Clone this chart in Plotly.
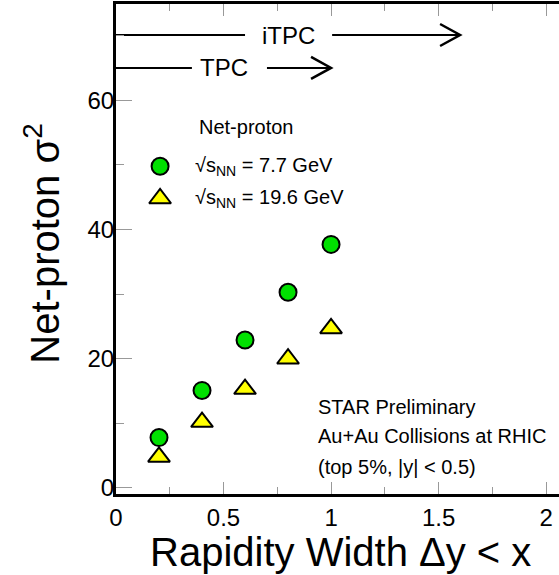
import plotly.graph_objects as go

# ---- data ----
dy_width = [0.2, 0.4, 0.6, 0.8, 1.0]
sigma2_7p7 = [7.8, 15.1, 22.9, 30.3, 37.7]
sigma2_19p6 = [4.8, 10.2, 15.3, 20.0, 24.7]

x_ticks = [0, 0.5, 1, 1.5, 2]
x_tick_labels = ["0", "0.5", "1", "1.5", "2"]
y_ticks = [0, 20, 40, 60]
y_tick_labels = ["0", "20", "40", "60"]

# acceptance arrows: [start, gap start, gap end, tip], y level, label x
itpc_x = [0.0, 0.60, 1.005, 1.60]
itpc_y = 70.1
itpc_label_x = 0.80
tpc_x = [0.0, 0.353, 0.702, 1.00]
tpc_y = 65.0
tpc_label_x = 0.50

FONT = "Liberation Sans, Arial, sans-serif"
GREEN = "#00e000"
YELLOW = "#ffff00"

fig = go.Figure()

# arrow lines
for xs, yv in [(itpc_x, itpc_y), (tpc_x, tpc_y)]:
    fig.add_trace(go.Scatter(x=[xs[0], xs[1], None, xs[2], xs[3]],
                             y=[yv, yv, None, yv, yv], mode="lines",
                             line=dict(color="black", width=2),
                             showlegend=False, hoverinfo="skip"))

# data series
fig.add_trace(go.Scatter(x=dy_width, y=sigma2_19p6, mode="markers", name="19.6 GeV",
                         marker=dict(symbol="triangle-up", size=19, color=YELLOW,
                                     line=dict(color="black", width=2)),
                         showlegend=False))
fig.add_trace(go.Scatter(x=dy_width, y=sigma2_7p7, mode="markers", name="7.7 GeV",
                         marker=dict(symbol="circle", size=17, color=GREEN,
                                     line=dict(color="black", width=2)),
                         showlegend=False))

# legend-like markers
fig.add_trace(go.Scatter(x=[0.205], y=[49.8], mode="markers",
                         marker=dict(symbol="circle", size=17, color=GREEN,
                                     line=dict(color="black", width=2)),
                         showlegend=False, hoverinfo="skip"))
fig.add_trace(go.Scatter(x=[0.205], y=[44.8], mode="markers",
                         marker=dict(symbol="triangle-up", size=19, color=YELLOW,
                                     line=dict(color="black", width=2)),
                         showlegend=False, hoverinfo="skip"))

# arrow heads (open chevrons)
shapes = []
for tip_x, yv in [(itpc_x[3], itpc_y), (tpc_x[3], tpc_y)]:
    shapes.append(dict(type="path", xref="x", yref="y", xsizemode="pixel", ysizemode="pixel",
                       xanchor=tip_x, yanchor=yv, path="M -20,11 L 0,0 L -20,-11",
                       line=dict(color="black", width=2.5)))

ann = []
def txt(x, y, s, size=20, xanchor="left", **kw):
    ann.append(dict(x=x, y=y, xref="x", yref="y", text=s, showarrow=False,
                    xanchor=xanchor, yanchor="middle",
                    font=dict(family=FONT, size=size, color="black"), **kw))

txt(itpc_label_x, itpc_y, "iTPC", size=24, xanchor="center")
txt(tpc_label_x, tpc_y, "TPC", size=24, xanchor="center")
txt(0.377, 55.8, "Net-proton")
txt(0.358, 49.8, "√s<sub>NN</sub> = 7.7 GeV")
txt(0.358, 44.8, "√s<sub>NN</sub> = 19.6 GeV")
txt(0.93, 12.6, "STAR Preliminary")
txt(0.93, 8.1, "Au+Au Collisions at RHIC")
txt(0.93, 3.3, "(top 5%, |y| < 0.5)")

# axis titles
ann.append(dict(x=0.506, y=-0.119, xref="paper", yref="paper", showarrow=False,
                text="Rapidity Width Δy < x", xanchor="center", yanchor="middle",
                font=dict(family=FONT, size=40, color="black")))
ann.append(dict(x=-0.167, y=0.511, xref="paper", yref="paper", showarrow=False,
                text="Net-proton σ<sup>2</sup>", textangle=-90,
                xanchor="center", yanchor="middle",
                font=dict(family=FONT, size=40, color="black")))

axis_common = dict(showgrid=False, zeroline=False, showline=True, linecolor="black",
                   linewidth=3, ticks="inside", tickcolor="#999999", tickwidth=1,
                   tickfont=dict(family=FONT, size=24, color="black"))

fig.update_layout(
    width=559, height=575,
    margin=dict(l=116, r=0, t=4, b=81),
    paper_bgcolor="white", plot_bgcolor="white",
    xaxis=dict(range=[0, 2.06], tickvals=x_ticks, ticktext=x_tick_labels, ticklen=12,
               mirror="ticks", minor=dict(dtick=0.25, ticks="inside", ticklen=7,
                                          tickcolor="#999999", tickwidth=1),
               **axis_common),
    yaxis=dict(range=[-0.93, 74.9], tickvals=y_ticks, ticktext=y_tick_labels, ticklen=16,
               ticklabelstandoff=-6,
               minor=dict(dtick=10, ticks="inside", ticklen=8,
                          tickcolor="#999999", tickwidth=1),
               **axis_common),
    shapes=shapes,
    annotations=ann,
    showlegend=False,
)

fig.write_html("out.html", config={"displayModeBar": False},
               post_script="document.body.style.margin='0';document.body.style.overflow='hidden';")
